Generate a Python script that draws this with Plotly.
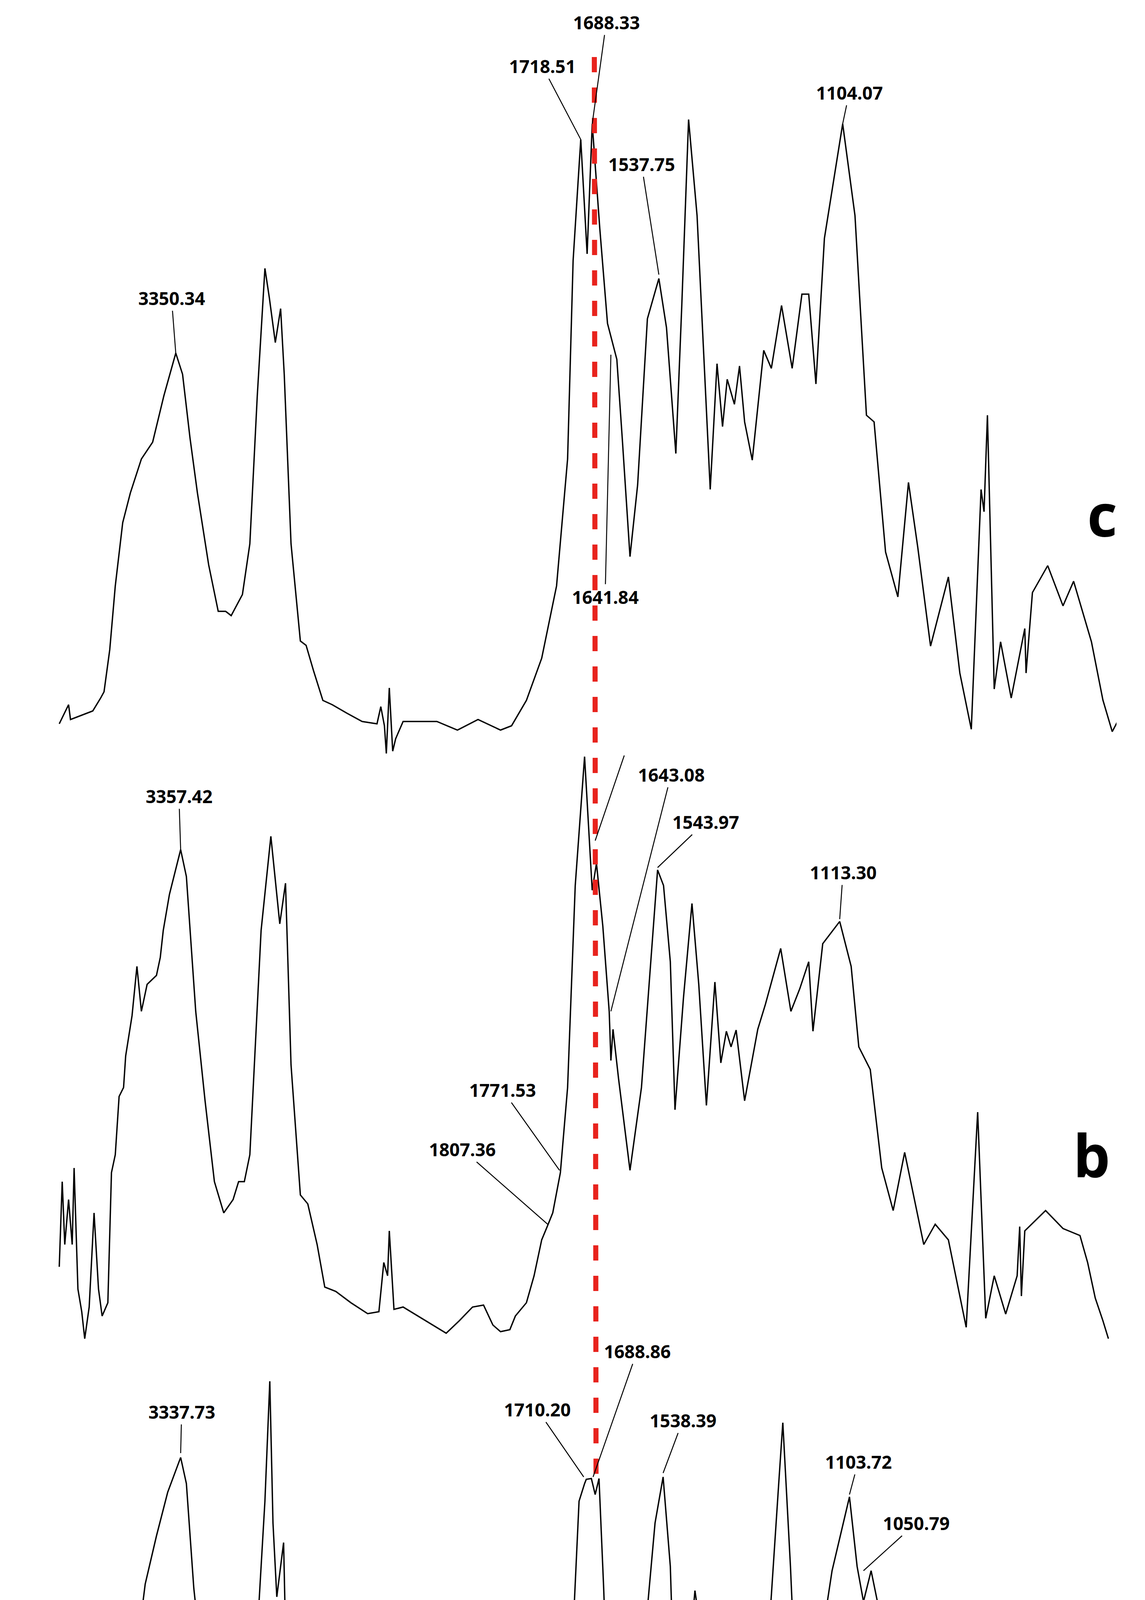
import plotly.graph_objects as go

# wavenumber (cm-1) and relative signal height
c_wn = [3881, 3837, 3828, 3723, 3687, 3670, 3643, 3617, 3582, 3546, 3494, 3441, 3388, 3332, 3300, 3265,
        3230, 3177, 3132, 3097, 3071, 3018, 2983, 2948, 2912, 2891, 2863, 2838, 2821, 2789, 2745, 2718,
        2683, 2639, 2595, 2525, 2454, 2384, 2366, 2349, 2340, 2326, 2310, 2296, 2261, 2102, 2005, 1954,
        1901, 1875, 1840, 1804, 1769, 1743, 1730, 1712, 1697, 1685, 1667, 1649, 1627, 1614, 1596, 1578,
        1555, 1528, 1510, 1488, 1474, 1458, 1438, 1407, 1391, 1378, 1367, 1350, 1338, 1326, 1308, 1281,
        1263, 1239, 1214, 1191, 1175, 1158, 1138, 1095, 1066, 1039, 1021, 994, 965, 940, 918, 888, 846,
        819, 792, 769, 762, 754, 738, 723, 698, 666, 663, 648, 612, 576, 551, 509, 482, 460, 446]
c_val = [3350, 3399, 3361, 3383, 3415, 3432, 3540, 3703, 3865, 3941, 4028, 4071, 4190, 4299, 4245, 4082,
         3941, 3757, 3638, 3638, 3627, 3681, 3811, 4190, 4516, 4440, 4326, 4413, 4245, 3811, 3562, 3551,
         3486, 3410, 3399, 3377, 3356, 3350, 3394, 3345, 3274, 3442, 3280, 3312, 3356, 3356, 3334, 3361,
         3334, 3345, 3410, 3518, 3703, 4028, 4536, 4846, 4553, 4886, 4616, 4375, 4283, 4077, 3778, 3962,
         4387, 4490, 4364, 4042, 4421, 4897, 4651, 3950, 4272, 4111, 4232, 4168, 4266, 4123, 4025, 4306,
         4260, 4421, 4260, 4450, 4450, 4220, 4593, 4886, 4651, 4140, 4123, 3790, 3675, 3968, 3801, 3549, 3726,
         3480, 3336, 3950, 3893, 4140, 3439, 3560, 3416, 3594, 3480, 3686, 3755, 3652, 3715, 3560, 3411, 3330, 3359]

b_wn = [3881, 3867, 3855, 3837, 3820, 3811, 3793, 3775, 3761, 3740, 3717, 3696, 3679, 3652, 3635, 3617,
        3599, 3578, 3568, 3538, 3515, 3494, 3467, 3423, 3405, 3391, 3362, 3309, 3282, 3238, 3194, 3150,
        3106, 3062, 3036, 3009, 2983, 2930, 2884, 2842, 2815, 2789, 2745, 2710, 2666, 2630, 2578, 2507,
        2428, 2375, 2352, 2334, 2326, 2304, 2261, 2172, 2058, 1998, 1967, 1941, 1919, 1901, 1879, 1866,
        1840, 1822, 1804, 1791, 1778, 1760, 1743, 1725, 1703, 1685, 1675, 1660, 1645, 1641, 1636, 1623,
        1596, 1569, 1546, 1531, 1517, 1501, 1490, 1470, 1450, 1434, 1416, 1396, 1382, 1369, 1358, 1346,
        1326, 1295, 1277, 1241, 1217, 1196, 1175, 1165, 1142, 1102, 1075, 1057, 1030, 1003, 976, 949,
        904, 877, 846, 804, 777, 758, 738, 711, 684, 678, 674, 666, 617, 576, 536, 518, 500, 482, 469]
b_val = [1960, 2178, 2017, 2132, 2017, 2213, 1903, 1845, 1776, 1857, 2098, 1903, 1834, 1868, 2201, 2247,
         2396, 2419, 2500, 2603, 2729, 2614, 2683, 2706, 2752, 2821, 2913, 3028, 2959, 2614, 2385, 2178,
         2098, 2132, 2178, 2178, 2247, 2821, 3062, 2838, 2942, 2477, 2144, 2121, 2017, 1908, 1897, 1868,
         1840, 1845, 1971, 1937, 2052, 1851, 1857, 1828, 1790, 1822, 1857, 1862, 1811, 1794, 1799, 1834,
         1868, 1937, 2029, 2063, 2098, 2201, 2419, 2936, 3266, 2924, 2993, 2832, 2614, 2488, 2568, 2442,
         2207, 2419, 2752, 2976, 2936, 2741, 2362, 2649, 2890, 2683, 2373, 2689, 2482, 2563, 2523, 2566,
         2385, 2568, 2632, 2775, 2614, 2672, 2741, 2563, 2787, 2844, 2729, 2523, 2465, 2213, 2104, 2253,
         2017, 2069, 2029, 1805, 2356, 1828, 1937, 1839, 1937, 2063, 1885, 2052, 2104, 2058, 2040, 1971, 1880, 1822, 1776]

a_wn = [3881, 3855, 3837, 3793, 3761, 3731, 3705, 3679, 3652, 3626, 3599, 3573, 3546, 3520, 3494, 3476,
        3423, 3370, 3309, 3282, 3247, 3203, 3159, 3106, 3080, 3053, 3009, 2983, 2948, 2912, 2889, 2874,
        2856, 2824, 2815, 2789, 2745, 2701, 2657, 2595, 2525, 2454, 2393, 2366, 2352, 2336, 2328, 2313,
        2261, 2137, 2032, 1963, 1919, 1892, 1848, 1804, 1769, 1747, 1730, 1716, 1703, 1699, 1687, 1678,
        1669, 1658, 1649, 1636, 1618, 1600, 1582, 1560, 1537, 1518, 1501, 1483, 1465, 1443, 1425, 1409,
        1394, 1380, 1367, 1349, 1337, 1317, 1290, 1268, 1245, 1236, 1218, 1187, 1165, 1142, 1120, 1079,
        1061, 1046, 1028, 1007, 989, 958, 940, 922, 895, 870, 855, 828, 801, 787, 763, 747, 720, 693,
        657, 653, 644, 603, 554, 527, 505, 482, 464, 451]
a_val = [54, 144, 77, 49, 110, 166, 149, 244, 356, 512, 635, 758, 914, 992, 1070, 1148,
         1271, 1383, 1472, 1405, 1137, 914, 691, 557, 568, 607, 546, 635, 1025, 1360, 1667, 1304,
         1115, 1254, 1025, 412, 278, 188, 121, 88, 82, 60, 66, 200, 166, 395, 155, 66,
         43, 27, 15, 21, 21, 43, 110, 244, 412, 635, 1025, 1360, 1405, 1416, 1418, 1377,
         1418, 1137, 858, 713, 635, 546, 635, 1025, 1304, 1422, 1193, 562, 858, 1131, 992, 679,
         752, 702, 802, 791, 864, 780, 970, 1037, 1416, 1561, 1193, 417, 601, 1025, 1182, 1371,
         1193, 1103, 1182, 1070, 668, 462, 490, 356, 21, 211, 110, 77, 110, 60, 562, 15, 278, 300,
         601, 445, 579, 635, 534, 467, 278, 200, 88, 10]

tick_labels = [4000, 3600, 3200, 2800, 2400, 2000, 1800, 1600, 1400, 1200, 1000, 800, 600, 450]

# peak labels: (text, peak wavenumber, peak height, label x px, label y px)
peak_labels = [
    ("3350.34", 3332, 4299, 431, 755),
    ("1718.51", 1712, 4846, 1380, 161),
    ("1688.33", 1685, 4886, 1544, 49),
    ("1537.75", 1528, 4500, 1634, 412),
    ("1104.07", 1095, 4886, 2166, 229),
    ("1641.84", 1641, 4295, 1541, 1520),
    ("3357.42", 3309, 3028, 450, 2030),
    ("1543.97", 1531, 2982, 1798, 2096),
    ("1643.08", 1641, 2614, 1710, 1975),
    ("1113.30", 1102, 2850, 2150, 2225),
    ("1771.53", 1762, 2207, 1278, 2782),
    ("1807.36", 1790, 2069, 1175, 2934),
    ("3337.73", 3309, 1483, 457, 3606),
    ("1710.20", 1705, 1422, 1367, 3600),
    ("1688.86", 1683, 1422, 1623, 3451),
    ("1538.39", 1518, 1432, 1740, 3628),
    ("1103.72", 1079, 1377, 2189, 3734),
    ("1050.79", 1046, 1182, 2337, 3891),
    ("1640.01", 1638, 630, 1522, 4834),
]
panel_names = [("c", 2813, 1308), ("b", 2786, 2948), ("a", 2771, 4432)]

W, H = 2931, 5477
L, R, B = 79, 81, 282
UMAX = 12.75
YMAX = 5195


def to_u(w):
    # the printed axis has 400 cm-1 per division above 2000 and 200 below
    return (4000 - w) / 400 if w >= 2000 else 5 + (2000 - w) / 200


def px_to_data(px, py):
    return (px - L) / (W - L - R) * UMAX, YMAX - py


fig = go.Figure()
for wn, val in [(c_wn, c_val), (b_wn, b_val), (a_wn, a_val)]:
    fig.add_trace(go.Scatter(x=[to_u(w) for w in wn], y=val, mode="lines",
                             line=dict(color="black", width=3.5), showlegend=False,
                             hoverinfo="skip"))

# red dashed guide through the 1688 band
fig.add_shape(type="line", x0=to_u(1680), x1=to_u(1676), y0=YMAX - 138, y1=YMAX - 3773,
              line=dict(color="#e8231d", width=13, dash="dash"))

for text, w, h, lx, ly in peak_labels:
    ax, ay = px_to_data(lx, ly)
    fig.add_annotation(x=to_u(w), y=h, ax=ax, ay=ay, axref="x", ayref="y", text="<b>%s</b>" % text,
                       showarrow=True, arrowhead=0, arrowwidth=2.5, arrowcolor="black",
                       font=dict(family="Open Sans", size=46, color="black"))

# 1643.08 also points back to the shoulder in b
x0, y0 = px_to_data(1590, 1926)
fig.add_shape(type="line", x0=x0, y0=y0, x1=to_u(1678), y1=YMAX - 2144,
              line=dict(color="black", width=2.5))

for name, lx, ly in panel_names:
    x, y = px_to_data(lx, ly)
    fig.add_annotation(x=x, y=y, text="<b>%s</b>" % name, showarrow=False,
                       font=dict(family="Open Sans", size=150, color="black"))

fig.add_annotation(x=0.5, y=-0.04, xref="paper", yref="paper", text="<b>cm<sup>-1</sup></b>",
                   showarrow=False, font=dict(family="Open Sans", size=72, color="black"))

fig.update_layout(
    width=W, height=H,
    margin=dict(l=L, r=R, t=0, b=B),
    plot_bgcolor="white", paper_bgcolor="white",
    xaxis=dict(range=[0, UMAX], tickvals=[to_u(t) for t in tick_labels],
               ticktext=["<b>%d</b>" % t for t in tick_labels], showgrid=False, zeroline=False,
               showline=True, linecolor="black", linewidth=5, ticks="outside", ticklen=18,
               tickwidth=3, tickcolor="black",
               tickfont=dict(family="Open Sans", size=50, color="black")),
    yaxis=dict(range=[0, YMAX], visible=False, showgrid=False, zeroline=False),
)

fig.write_html("out.html")
